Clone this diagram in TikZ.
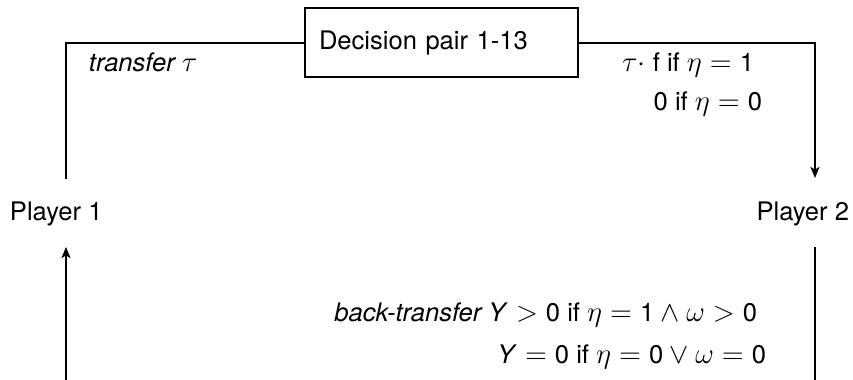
\documentclass[tikz,border=0pt]{standalone}
\usepackage{fontspec}
\setmainfont[Scale=0.9]{TeX Gyre Heros}
\usetikzlibrary{arrows.meta}
\newcommand{\dg}[1]{\textup{#1}}
\begin{document}
\begin{tikzpicture}[x=0.5pt,y=-0.5pt,line width=1pt,
  every node/.style={font=\fontsize{14.2}{17}\selectfont},
  lbl/.style={inner sep=0pt},
  arr/.style={-{Stealth[length=5.5pt,width=4.5pt,inset=1.3pt]}}]
\useasboundingbox (0,0) rectangle (853,380);
\node[draw,anchor=west,inner xsep=7pt,text width=122.5pt,align=left,minimum height=34.5pt] (dec) at (304,42.5) {Decision pair 1-13};
\node[lbl,anchor=base west] (p1) at (9,220) {Player 1};
\node[lbl,anchor=base east] (p2) at (850,220) {Player 2};
\coordinate (a1) at (66,179);
\coordinate (a2) at (815,178);
\coordinate (b1) at (66,380);
\coordinate (b1t) at (66,247);
\coordinate (b2) at (815,247);
\coordinate (b2e) at (815,380);
\draw (dec.west) -| (a1);
\draw[arr] (dec.east) -| (a2);
\draw[arr] (b1) -- (b1t);
\draw (b2) -- (b2e);
\node[lbl,anchor=base west] (lt) at (88,71) {\itshape transfer $\tau$};
\node[lbl,anchor=base east] (rt1) at (755,71) {$\tau\cdot$ f if $\eta=\dg{1}$};
\node[lbl,anchor=base east] (rt2) at (763,111) {0 if $\eta=\dg{0}$};
\node[lbl,anchor=base east] (bt1) at (758,321) {\textit{back-transfer Y}${}>\dg{0}$ if $\eta=\dg{1}\wedge\omega>\dg{0}$};
\node[lbl,anchor=base east] (bt2) at (767,363) {\textit{Y}${}=\dg{0}$ if $\eta=\dg{0}\vee\omega=\dg{0}$};
\end{tikzpicture}
\end{document}
